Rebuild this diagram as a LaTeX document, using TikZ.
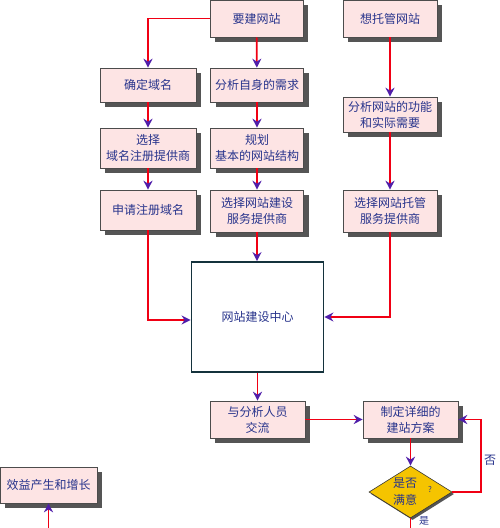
\documentclass[tikz,border=0pt]{standalone}
\usepackage{fontspec}
\newfontfamily\cjk{Noto Sans CJK SC}
\usepackage{xcolor}
\usetikzlibrary{positioning,arrows.meta,shapes.geometric,shadows}
\definecolor{boxpink}{RGB}{253,228,228}
\definecolor{txtblue}{RGB}{40,52,140}
\definecolor{tipviolet}{RGB}{80,30,170}
\definecolor{linered}{RGB}{240,0,20}
\definecolor{shadegray}{RGB}{85,85,85}
\definecolor{decgold}{RGB}{245,196,0}
\definecolor{ctredge}{RGB}{20,50,60}
\tikzset{
  blk/.style={draw=black!70,line width=0.6pt,fill=boxpink,align=center,
              text=txtblue,font=\cjk\fontsize{12}{16}\selectfont,inner sep=1pt,
              drop shadow={shadow xshift=5pt,shadow yshift=-5pt,fill=shadegray,opacity=1}},
  ctr/.style={draw=ctredge,line width=1.8pt,fill=white,text=txtblue,
              font=\cjk\fontsize{12}{16}\selectfont},
  dec/.style={diamond,draw=black!80,line width=0.6pt,fill=decgold,inner sep=0pt,
              drop shadow={shadow xshift=2pt,shadow yshift=-2pt,fill=shadegray,opacity=1}},
  sig/.style={draw=linered,line width=1.7pt,-{Stealth[length=9pt,width=9pt,color=tipviolet]}},
  seg/.style={draw=linered,line width=1.7pt},
  lbl/.style={text=txtblue,font=\cjk\fontsize{12}{16}\selectfont,align=center},
}
\begin{document}
\begin{tikzpicture}[x=1pt,y=-1pt]
  \useasboundingbox (0,0) rectangle (500,528);
  % --- top row ---
  \node[blk,minimum width=93pt,minimum height=37pt] (want) at (256.5,18.5) {要建网站};
  \node[blk,minimum width=94pt,minimum height=37pt] (host) at (390,18.5) {想托管网站};
  % --- left column: domain ---
  \node[blk,minimum width=96pt,minimum height=34pt] (domain) at (148,85) {确定域名};
  \node[blk,minimum width=96pt,minimum height=40pt] (registrar) at (148,148) {选择\\域名注册提供商};
  \node[blk,minimum width=96pt,minimum height=40pt] (apply) at (148,210) {申请注册域名};
  % --- middle column: needs ---
  \node[blk,minimum width=93pt,minimum height=34pt] (needs) at (257,85) {分析自身的需求};
  \node[blk,minimum width=93pt,minimum height=40pt] (plan) at (257,148) {规划\\基本的网站结构};
  \node[blk,minimum width=93pt,minimum height=42pt] (builder) at (257,211) {选择网站建设\\服务提供商};
  % --- right column: hosting ---
  \node[blk,minimum width=94pt,minimum height=35pt] (func) at (390,114.5) {分析网站的功能\\和实际需要};
  \node[blk,minimum width=94pt,minimum height=42pt] (hoster) at (390,211) {选择网站托管\\服务提供商};
  % --- centre ---
  \node[ctr,minimum width=132pt,minimum height=110pt] (center) at (257.5,317) {网站建设中心};
  % --- bottom ---
  \node[blk,minimum width=95pt,minimum height=37pt] (talk) at (257.5,419.5) {与分析人员\\交流};
  \node[blk,minimum width=95pt,minimum height=37pt] (scheme) at (410.5,419.5) {制定详细的\\建站方案};
  \node[dec,minimum width=83pt,minimum height=52pt] (ok) at (410.5,492) {};
  \node[lbl,font=\cjk\fontsize{12}{17}\selectfont] (oktext) at (405,492) {是否\\满意};
  \node[lbl,font=\cjk\fontsize{8}{10}\selectfont] (okq) at (430,489) {?};
  \node[blk,minimum width=97pt,minimum height=36pt] (gain) at (48.5,485) {效益产生和增长};
  \coordinate (noturn) at (481,419.5);
  \coordinate (yesend) at (410.5,540);
  \coordinate (gainfrom) at (48.5,540);
  \node[lbl] (nolbl) at (490,460) {否};
  \node[lbl,font=\cjk\fontsize{10}{12}\selectfont] (yeslbl) at (424,521) {是};
  % --- connectors ---
  \draw[sig] (want.west) -| (domain.north);
  \draw[sig] (want) -- (needs);
  \draw[sig] (host) -- (func);
  \draw[sig] (domain) -- (registrar);
  \draw[sig] (registrar) -- (apply);
  \draw[sig] (needs) -- (plan);
  \draw[sig] (plan) -- (builder);
  \draw[sig] (builder.south) -- (builder.south |- center.north);
  \draw[sig] (func) -- (hoster);
  \draw[sig] (apply.south) |- ([yshift=-3pt]center.west);
  \draw[sig] (hoster.south) |- (center.east);
  \draw[sig] (center.south) -- (talk.north);
  \draw[sig] (talk) -- (scheme);
  \draw[sig] (scheme) -- (ok);
  \draw[sig] (ok.east) -| (noturn) -- (scheme.east);
  \draw[seg] (ok.south) -- (yesend);
  \draw[sig] (gainfrom) -- (gain.south);
\end{tikzpicture}
\end{document}
